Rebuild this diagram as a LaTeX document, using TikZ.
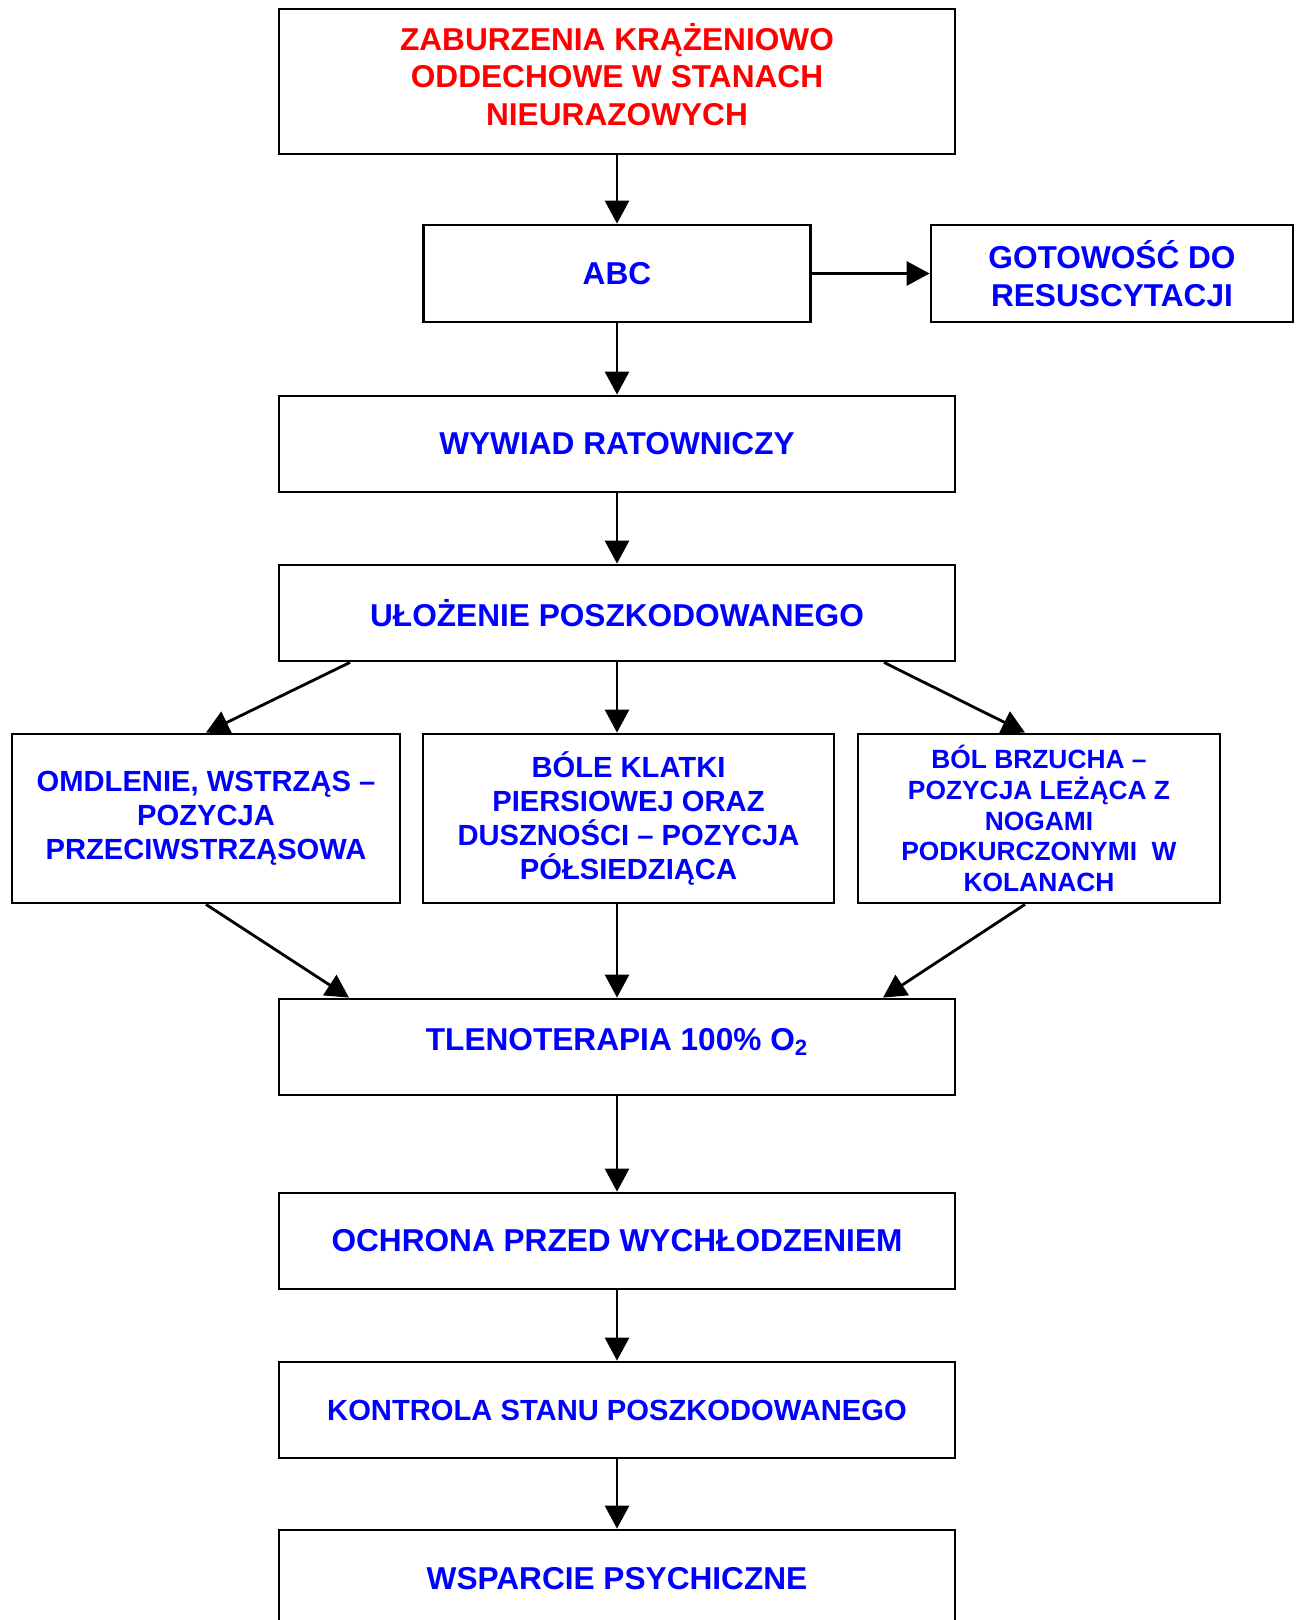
\documentclass[tikz,border=0pt]{standalone}
\usepackage{fontspec}
\setmainfont{Liberation Sans}
\usepackage{xcolor}
\usepackage{tikz}
\usetikzlibrary{arrows.meta,calc}
\tikzset{
box/.style = {rectangle, draw=black, line width=1.6pt, align=center, text=blue, font=\bfseries\fontsize{18}{21.4}\selectfont, minimum width = #1},
box/.default = 13.52cm, % width of the main column
small/.style = {font=\bfseries\fontsize{16.6}{19.4}\selectfont},
}

\begin{document}
\begin{tikzpicture}[x=0.02cm, y=-0.02cm, >={Triangle[length=0.46cm, width=0.48cm]}, line width=1.6pt]
\useasboundingbox (0,0) rectangle (1298,1620);

    \node[box, minimum height=2.9cm, text=red] (title) at (617,81.5) {ZABURZENIA KRĄŻENIOWO\\ODDECHOWE W STANACH\\NIEURAZOWYCH\\[-0.47cm]};
    \node[box=7.74cm, minimum height=1.94cm] (abc) at (617,273.5) {ABC};
    \node[box=7.24cm, minimum height=1.94cm] (resus) at (1112,273.5) {GOTOWOŚĆ DO\\RESUSCYTACJI};
    \node[box, minimum height=1.92cm] (interview) at (617,444) {WYWIAD RATOWNICZY};
    \node[box, minimum height=1.92cm] (posture) at (617,613) {UŁOŻENIE POSZKODOWANEGO};

    \node[box=7.76cm, minimum height=3.38cm, small] (shockPos) at (206,818.5) {OMDLENIE, WSTRZĄS –\\POZYCJA\\PRZECIWSTRZĄSOWA};
    \node[box=8.22cm, minimum height=3.38cm, small] (chestPos) at (628.5,818.5) {BÓLE KLATKI\\PIERSIOWEJ ORAZ\\DUSZNOŚCI – POZYCJA\\PÓŁSIEDZIĄCA};
    \node[box=7.24cm, minimum height=3.38cm, font=\bfseries\fontsize{15}{17.5}\selectfont] (bellyPos) at (1039,818.5) {BÓL BRZUCHA –\\POZYCJA LEŻĄCA Z\\NOGAMI\\PODKURCZONYMI\ \ W\\KOLANACH};

    \node[box, minimum height=1.92cm, text depth=0.3cm] (oxygen) at (617,1047) {TLENOTERAPIA 100\% O\textsubscript{2}};
    \node[box, minimum height=1.92cm] (warmth) at (617,1241) {OCHRONA PRZED WYCHŁODZENIEM};
    \node[box, minimum height=1.92cm, small] (monitor) at (617,1410) {KONTROLA STANU POSZKODOWANEGO};
    \node[box, minimum height=1.96cm] (support) at (617,1579) {WSPARCIE PSYCHICZNE};

\draw[->] (title) -- (abc);
\draw[->] (abc) -- (resus);
\draw[->] (abc) -- (interview);
\draw[->] (interview) -- (posture);

\draw[->] ($(posture.south)+(-267,0)$) -- (shockPos.north);
\draw[->] (posture.south) -- (posture.south |- chestPos.north);
\draw[->] ($(posture.south)+(267,0)$) -- ($(bellyPos.north)+(-14,0)$);

\draw[->] (shockPos.south) -- ($(oxygen.north)+(-268,0)$);
\draw[->] (oxygen.north |- chestPos.south) -- (oxygen.north);
\draw[->] ($(bellyPos.south)+(-14,0)$) -- ($(oxygen.north)+(266,0)$);

\draw[->] (oxygen) -- (warmth);
\draw[->] (warmth) -- (monitor);
\draw[->] (monitor) -- (support);

\end{tikzpicture}
\end{document}
